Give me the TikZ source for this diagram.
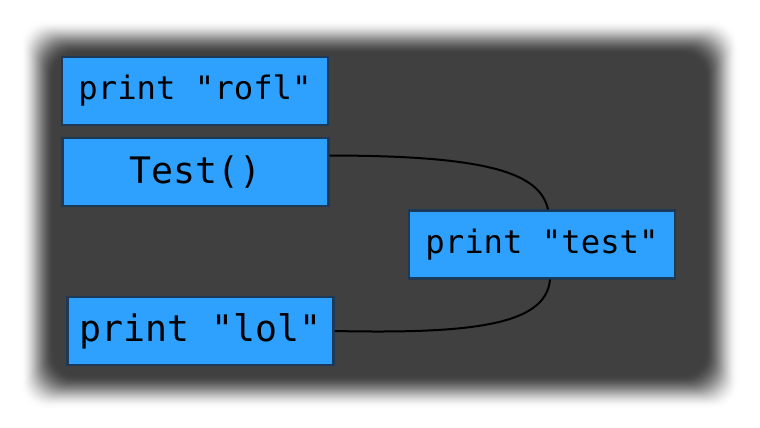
\documentclass[tikz,border=0pt]{standalone}
\usepackage{fontspec}
\newfontfamily\codefont{DejaVu Sans Mono}
\definecolor{panelgray}{RGB}{64,64,64}
\definecolor{blockblue}{RGB}{46,161,255}
\definecolor{blockedge}{RGB}{28,58,88}

\tikzset{every picture/.style={line width=0.75pt}}
\tikzset{
  block/.style={draw=blockedge, fill=blockblue, line width=1.6pt, inner sep=0pt,
    minimum width=199.5pt, minimum height=51pt, text=black},
  smallcode/.style={font=\codefont\fontsize{24.2}{29}\selectfont},
  bigcode/.style={font=\codefont\fontsize{27.4}{33}\selectfont},
  link/.style={draw=black, line width=1.5pt}
}

\begin{document}
\begin{tikzpicture}[x=0.75pt,y=0.75pt,yscale=-1,xscale=1]
\useasboundingbox (0,0) rectangle (760,428);
\fill[white] (0,0) rectangle (760,428);

% Panel with soft edge
\foreach \i in {0,...,34}{
  \pgfmathsetmacro{\t}{\i/34}
  \pgfmathsetmacro{\k}{100*\t*\t*(3-2*\t)}
  \fill[panelgray!\k!white, rounded corners=18pt] (20+\i,20+\i) rectangle (739-\i,409-\i);
}

% Blocks
\node[block, smallcode] (rofl) at (195,91) {print "rofl"};
\node[block, bigcode] (call) at (195.5,172) {Test()};
\node[block, smallcode] (test) at (542,244.5) {print "test"};
\node[block, bigcode] (lol) at (200.5,331) {print "lol"};

% Links
\draw[link] (call.7) .. controls +(160,0) and +(-8,-36) .. ([xshift=4.5pt]test.north);
\draw[link] ([xshift=6pt]test.south) .. controls +(-4,45) and +(140,3) .. (lol.east);

\end{tikzpicture}
\end{document}
